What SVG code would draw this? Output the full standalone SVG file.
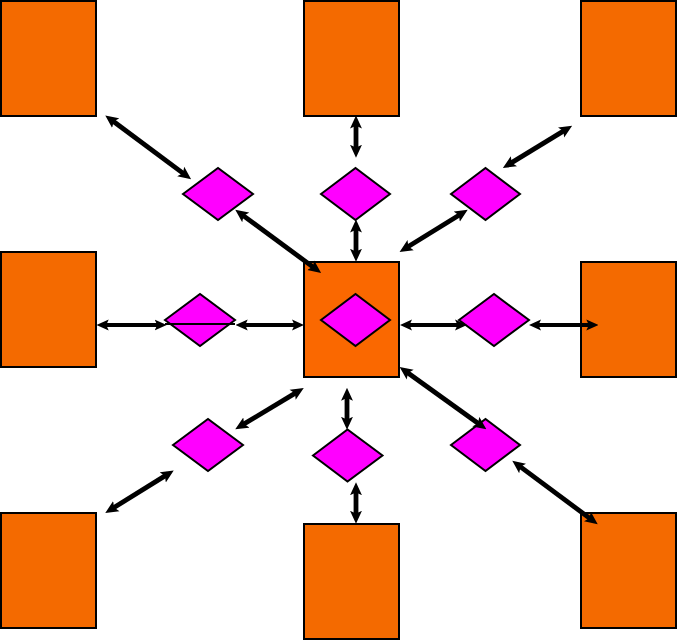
<svg xmlns="http://www.w3.org/2000/svg" width="677" height="640" viewBox="0 0 677 640">
<style>
.box{fill:#F46A00;stroke:#000;stroke-width:2}
.dia{fill:#FF00FF;stroke:#000;stroke-width:2;stroke-linejoin:miter}
.arr{stroke:#000;stroke-width:4.8;fill:none;marker-start:url(#ah);marker-end:url(#ah)}
.arr.h{stroke-width:4;marker-start:url(#ahs);marker-end:url(#ahs)}
.thin{stroke:#000;stroke-width:2;fill:none}
</style>
<defs>
<marker id="ah" markerUnits="userSpaceOnUse" markerWidth="13" markerHeight="13" viewBox="0 0 12 12" refX="6" refY="6" orient="auto-start-reverse">
<path d="M0,0.5 L12,6 L0,11.5 L2.5,6 Z" fill="#000"/>
</marker>
<marker id="ahs" markerUnits="userSpaceOnUse" markerWidth="12" markerHeight="12" viewBox="0 0 12 12" refX="6" refY="6" orient="auto-start-reverse">
<path d="M0,0.5 L12,6 L0,11.5 L2.5,6 Z" fill="#000"/>
</marker>
</defs>
<rect width="677" height="640" fill="#fff"/>
<g id="box-tl"><rect class="box" x="1" y="1" width="95" height="115"/></g>
<g id="box-tm"><rect class="box" x="304" y="1" width="95" height="115"/></g>
<g id="box-tr"><rect class="box" x="581" y="1" width="95" height="115"/></g>
<g id="box-ml"><rect class="box" x="1" y="252" width="95" height="115"/></g>
<g id="box-center"><rect class="box" x="304" y="262" width="95" height="115" style="fill:#FA6800"/></g>
<g id="box-mr"><rect class="box" x="581" y="262" width="95" height="115"/></g>
<g id="box-bl"><rect class="box" x="1" y="513" width="95" height="115"/></g>
<g id="box-bm"><rect class="box" x="304" y="524" width="95" height="115"/></g>
<g id="box-br"><rect class="box" x="581" y="513" width="95" height="115"/></g>
<g id="dia-ul"><polygon class="dia" points="183,194 218,168 253,194 218,220"/></g>
<g id="dia-um"><polygon class="dia" points="321,194 355.5,168 390,194 355.5,220"/></g>
<g id="dia-ur"><polygon class="dia" points="451,194 485.5,168 520,194 485.5,220"/></g>
<g id="dia-ml"><polygon class="dia" points="165,320 200,294 235,320 200,346"/></g>
<g id="dia-center"><polygon class="dia" points="321,320 355.5,294 390,320 355.5,346"/></g>
<g id="dia-mr"><polygon class="dia" points="459,320 494,294 529,320 494,346"/></g>
<g id="dia-ll"><polygon class="dia" points="173,445 208,419 243,445 208,471"/></g>
<g id="dia-lm"><polygon class="dia" points="313,455.5 347.5,429.5 382.5,455.5 347.5,481.5"/></g>
<g id="dia-lr"><polygon class="dia" points="451,445 485.5,419 520,445 485.5,471"/></g>
<g id="connectors">
<line class="thin" x1="165" y1="324" x2="235" y2="324"/>
<line class="arr" x1="110.5" y1="119.3" x2="185.9" y2="175.4"/>
<line class="arr" x1="240.5" y1="213.6" x2="315.9" y2="269.1"/>
<line class="arr" x1="356" y1="122" x2="356" y2="151.3"/>
<line class="arr" x1="356" y1="226" x2="356" y2="255.3"/>
<line class="arr" x1="566.6" y1="129.1" x2="508.4" y2="164.6"/>
<line class="arr" x1="462.2" y1="213.2" x2="405.1" y2="248.5"/>
<line class="arr h" x1="102.7" y1="325" x2="160.7" y2="325"/>
<line class="arr h" x1="241.7" y1="325" x2="298" y2="325"/>
<line class="arr h" x1="406" y1="325" x2="461" y2="325"/>
<line class="arr h" x1="535" y1="325" x2="592.3" y2="325"/>
<line class="arr" x1="404.9" y1="370.8" x2="481.1" y2="425.5"/>
<line class="arr" x1="517.5" y1="464.6" x2="592.5" y2="520.4"/>
<line class="arr" x1="298.2" y1="391.4" x2="240.8" y2="425.9"/>
<line class="arr" x1="168.2" y1="473.9" x2="110.8" y2="509.5"/>
<line class="arr" x1="347" y1="394.3" x2="347" y2="423.3"/>
<line class="arr" x1="356" y1="488.7" x2="356" y2="517.3"/>
</g>
</svg>
